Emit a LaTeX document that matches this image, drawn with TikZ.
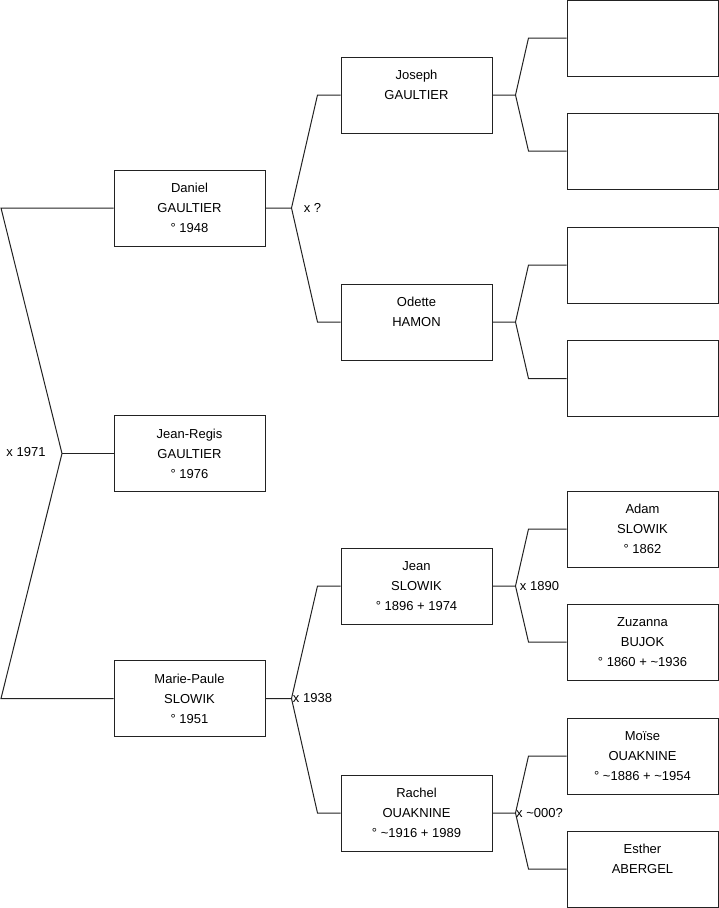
\documentclass[tikz,border=0pt]{standalone}
\usepackage{fontspec}
\setmainfont{Liberation Sans}
\usepackage{tikz}
\usetikzlibrary{positioning}
\definecolor{BoxLine}{HTML}{222222}

\begin{document}
\begin{tikzpicture}[x=1pt, y=-1pt,
    font=\fontsize{13}{20}\selectfont,
    person/.style={draw=BoxLine, line width=1pt, align=center, minimum width=151pt, minimum height=76pt, inner sep=0pt},
    link/.style={draw=BoxLine, line width=1pt},
    wed/.style={inner sep=0pt}
]
\useasboundingbox (0,0) rectangle (719,908);
% generation 1
\node[person] (daniel) at (189.5,208) {Daniel\\GAULTIER\\° 1948};
\node[person] (jeanregis) at (189.5,453.5) {Jean-Regis\\GAULTIER\\° 1976};
\node[person] (mariepaule) at (189.5,698.5) {Marie-Paule\\SLOWIK\\° 1951};
% generation 2
\node[person] (joseph) at (416.5,95) {Joseph\\GAULTIER\\~};
\node[person] (odette) at (416.5,322) {Odette\\HAMON\\~};
\node[person] (jean) at (416.5,586) {Jean\\SLOWIK\\° 1896 + 1974};
\node[person] (rachel) at (416.5,813) {Rachel\\OUAKNINE\\° \textasciitilde1916 + 1989};
% generation 3
\node[person] (josephfa) at (642.5,38) {};
\node[person] (josephmo) at (642.5,151) {};
\node[person] (odettefa) at (642.5,265) {};
\node[person] (odettemo) at (642.5,378.5) {};
\node[person] (adam) at (642.5,529) {Adam\\SLOWIK\\° 1862};
\node[person] (zuzanna) at (642.5,642) {Zuzanna\\BUJOK\\° 1860 + \textasciitilde1936};
\node[person] (moise) at (642.5,756) {Moïse\\OUAKNINE\\° \textasciitilde1886 + \textasciitilde1954};
\node[person] (esther) at (642.5,869) {Esther\\ABERGEL\\~};

% siblings
\coordinate (rootup) at (1,208);
\coordinate (rootdown) at (1,698.5);
\coordinate (vroot) at (62,453.5);
\draw[link] (daniel.west) -- (rootup) -- (vroot) -- (rootdown) -- (mariepaule.west);
\draw[link] (vroot) -- (jeanregis.west);
\node[wed] (wedroot) at (26,452) {x 1971};

% parents of generation 1
\draw[link] (daniel.east) -- ++(26,0) coordinate (vdaniel) -- ([xshift=-23pt]joseph.west) -- (joseph.west);
\draw[link] (vdaniel) -- ([xshift=-23pt]odette.west) -- (odette.west);
\node[wed] (weddaniel) at ([xshift=21pt]vdaniel) {x ?};

\draw[link] (mariepaule.east) -- ++(26,0) coordinate (vmariepaule) -- ([xshift=-23pt]jean.west) -- (jean.west);
\draw[link] (vmariepaule) -- ([xshift=-23pt]rachel.west) -- (rachel.west);
\node[wed] (wedmariepaule) at ([xshift=21pt]vmariepaule) {x 1938};

% parents of generation 2
\draw[link] (joseph.east) -- ++(23,0) coordinate (vjoseph) -- ([xshift=-38pt]josephfa.west) -- (josephfa.west);
\draw[link] (vjoseph) -- ([xshift=-38pt]josephmo.west) -- (josephmo.west);

\draw[link] (odette.east) -- ++(23,0) coordinate (vodette) -- ([xshift=-38pt]odettefa.west) -- (odettefa.west);
\draw[link] (vodette) -- ([xshift=-38pt]odettemo.west) -- (odettemo.west);

\draw[link] (jean.east) -- ++(23,0) coordinate (vjean) -- ([xshift=-38pt]adam.west) -- (adam.west);
\draw[link] (vjean) -- ([xshift=-38pt]zuzanna.west) -- (zuzanna.west);
\node[wed] (wedjean) at ([xshift=24pt]vjean) {x 1890};

\draw[link] (rachel.east) -- ++(23,0) coordinate (vrachel) -- ([xshift=-38pt]moise.west) -- (moise.west);
\draw[link] (vrachel) -- ([xshift=-38pt]esther.west) -- (esther.west);
\node[wed] (wedrachel) at ([xshift=24pt]vrachel) {x \textasciitilde000?};
\end{tikzpicture}
\end{document}
